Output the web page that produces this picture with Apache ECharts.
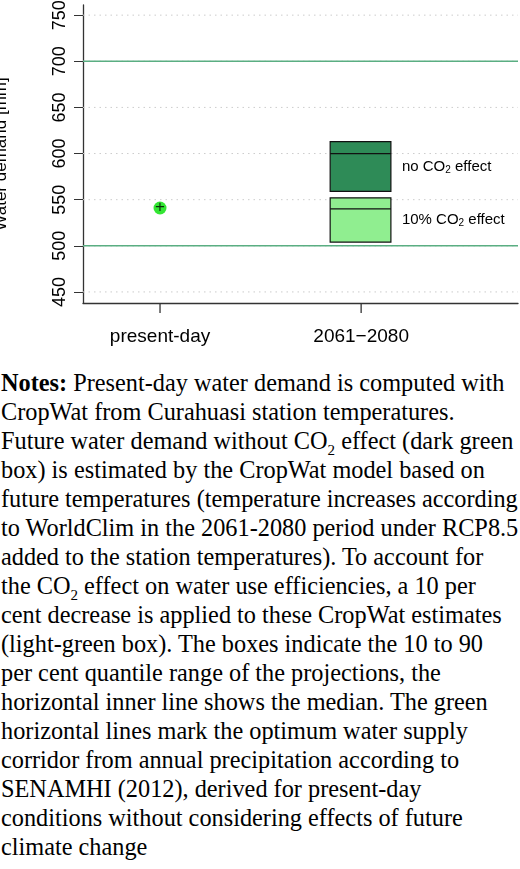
<!DOCTYPE html>
<html><head><meta charset="utf-8">
<script src="https://cdn.jsdelivr.net/npm/echarts@6/dist/echarts.min.js"></script>
<style>
body{margin:0;background:#fff;width:520px;height:869px;overflow:hidden}
#c{width:520px;height:362px}
#n{font-family:"Liberation Serif","Times New Roman",serif;font-size:24.3px;line-height:29px;color:#000;padding:0 0 0 1px;margin-top:6px;white-space:nowrap}
sub{font-size:15px;line-height:0}
</style></head><body>
<div id="c"></div>
<div id="n"><b>Notes:</b> Present-day water demand is computed with<br>CropWat from Curahuasi station temperatures.<br>Future water demand without CO<sub>2</sub> effect (dark green<br>box) is estimated by the CropWat model based on<br>future temperatures (temperature increases according<br>to WorldClim in the 2061-2080 period under RCP8.5<br>added to the station temperatures). To account for<br>the CO<sub>2</sub> effect on water use efficiencies, a 10 per<br>cent decrease is applied to these CropWat estimates<br>(light-green box). The boxes indicate the 10 to 90<br>per cent quantile range of the projections, the<br>horizontal inner line shows the median. The green<br>horizontal lines mark the optimum water supply<br>corridor from annual precipitation according to<br>SENAMHI (2012), derived for present-day<br>conditions without considering effects of future<br>climate change</div>
<script>
const categories = ['present-day', '2061\u22122080'];
const yTicks = [450, 500, 550, 600, 650, 700, 750];
const presentValue = 541;
// [low(10%), median, high(90%)]
const noCO2 = [559, 600, 613];
const withCO2 = [504, 540, 552];
const corridor = [500, 700];

const chart = echarts.init(document.getElementById('c'));
const boxes = [
  {value:[2, ...noCO2], color:'#2e8b57', label:'no CO{s|2} effect'},
  {value:[2, ...withCO2], color:'#90ee90', label:'10% CO{s|2} effect'}
];
chart.setOption({
  animation:false,
  grid:{left:83,right:2,top:5,bottom:59,containLabel:false,outerBoundsMode:'none'},
  xAxis:{type:'value',min:0.617,max:2.78,
    axisLine:{lineStyle:{color:'#333',width:1.3}},
    splitLine:{show:false},
    axisTick:{show:false},
    axisLabel:{show:false}},
  yAxis:{type:'value',min:438,max:761,interval:50,
    name:'Water demand [mm]',nameLocation:'middle',nameGap:73,nameRotate:90,
    nameTextStyle:{fontSize:17,color:'#000',fontFamily:'Liberation Sans'},
    axisLine:{show:true,lineStyle:{color:'#333',width:1.3}},
    axisTick:{show:true,length:9,lineStyle:{color:'#333'},customValues:yTicks},
    axisLabel:{rotate:90,fontSize:18,color:'#000',margin:14,fontFamily:'Liberation Sans',customValues:yTicks},
    splitLine:{show:false}},
  series:[
    {type:'custom',silent:true,data:yTicks.map(v=>[v]),
      renderItem:(p,api)=>{const a=api.coord([0.617,api.value(0)]),b=api.coord([2.78,api.value(0)]);
        return {type:'line',shape:{x1:a[0],y1:a[1],x2:b[0],y2:b[1]},style:{stroke:'#ccc',lineDash:[1.5,4],lineWidth:1}};}},
    {type:'custom',silent:true,data:corridor.map(v=>[v]),z:3,
      renderItem:(p,api)=>{const a=api.coord([0.617,api.value(0)]),b=api.coord([2.78,api.value(0)]);
        return {type:'line',shape:{x1:a[0],y1:a[1],x2:b[0],y2:b[1]},style:{stroke:'#5aae82',lineWidth:1.5}};}},
    {type:'custom',silent:true,data:[1,2],z:3,
      renderItem:(p,api)=>{const a=api.coord([api.value(0),438]);
        return {type:'group',children:[
          {type:'line',shape:{x1:a[0],y1:a[1],x2:a[0],y2:a[1]+10},style:{stroke:'#333',lineWidth:1.3}},
          {type:'text',style:{x:a[0],y:a[1]+34,text:categories[p.dataIndex],align:'center',verticalAlign:'middle',fontSize:19,fill:'#000',fontFamily:'Liberation Sans'}}]};}},
    {type:'custom',silent:true,z:4,data:boxes.map(b=>b.value),
      renderItem:(p,api)=>{const bx=boxes[p.dataIndex];const x=api.value(0);
        const tl=api.coord([x-0.154,api.value(3)]),br=api.coord([x+0.148,api.value(1)]),m=api.coord([x,api.value(2)]);
        const mid=(tl[1]+br[1])/2;
        return {type:'group',children:[
          {type:'rect',shape:{x:tl[0],y:tl[1],width:br[0]-tl[0],height:br[1]-tl[1]},style:{fill:bx.color,stroke:'#111',lineWidth:1.2}},
          {type:'line',shape:{x1:tl[0],y1:m[1],x2:br[0],y2:m[1]},style:{stroke:'#111',lineWidth:1.2}},
          {type:'text',style:{x:br[0]+11,y:mid,text:bx.label,verticalAlign:'middle',fontSize:15,fill:'#000',fontFamily:'Liberation Sans',
            rich:{s:{fontSize:10,verticalAlign:'bottom',padding:[7,0,0,0],fill:'#000'}}}}]};}},
    {type:'scatter',data:[[1,presentValue]],symbolSize:13,itemStyle:{color:'#00e000'},z:5,
      label:{show:true,position:'inside',formatter:'+',fontSize:17,color:'#000',offset:[0,-1]}}
  ]
});
</script></body></html>
